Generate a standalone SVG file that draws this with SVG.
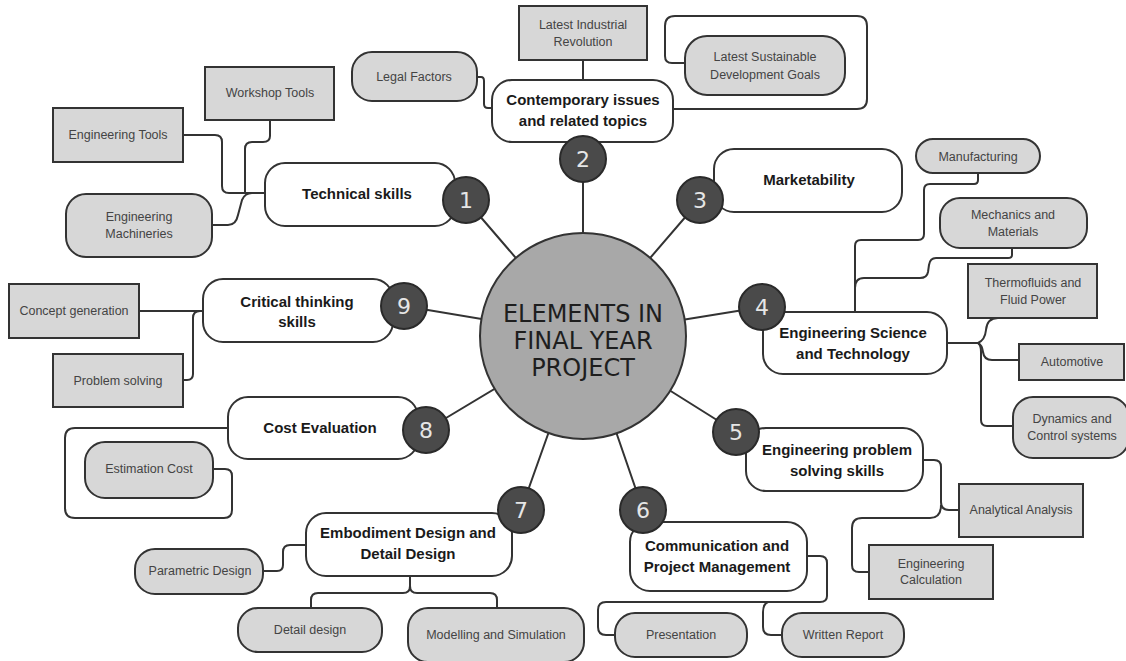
<svg xmlns="http://www.w3.org/2000/svg" width="1126" height="661" viewBox="0 0 1126 661">
<style>
.main{fill:#fff;stroke:#333;stroke-width:2}
.sub{fill:#d7d7d7;stroke:#333;stroke-width:2}
.num{fill:#4a4a4a;stroke:#2a2a2a;stroke-width:2}
.numt{font-family:"DejaVu Sans",sans-serif;font-size:22px;fill:#e6e6e6;text-anchor:middle}
.mt{font-family:"Liberation Sans",Arial,sans-serif;font-size:15px;font-weight:bold;fill:#1a1a1a;text-anchor:middle}
.st{font-family:"Liberation Sans",Arial,sans-serif;font-size:12.5px;fill:#444;text-anchor:middle}
.conn{fill:none;stroke:#333;stroke-width:2}
</style>
<rect width="1126" height="661" fill="#fff"/>
<g id="connectors">
<path class="conn" d="M583,336 L466,200 M583,336 L583,159 M583,336 L700,200 M583,336 L762,307 M583,336 L736,432 M583,336 L643,510 M583,336 L521,510 M583,336 L426,430 M583,336 L404,306"/>
<path class="conn" d="M183,135 H215 Q222,135 222,142 V186 Q222,193 229,193 H265"/>
<path class="conn" d="M270,120 V136 Q270,142 263,142 H252 Q245,142 245,149 V193"/>
<path class="conn" d="M212,225 H228 Q236,225 238,215 L242,200 Q245,193 252,193"/>
<path class="conn" d="M583,60 V80"/>
<path class="conn" d="M477,77 H481 Q484,77 484,81 V104 Q484,108 488,108 H492"/>
<path class="conn" d="M673,109 H857 Q867,109 867,99 V26 Q867,16 857,16 H675 Q665,16 665,26 V56 Q665,63 672,63 H685"/>
<path class="conn" d="M978,173 V180 Q978,184 974,184 H930 Q924,184 924,190 V234 Q924,240 918,240 H861 Q855,240 855,246 V312"/>
<path class="conn" d="M1012,248 V255 Q1012,258 1008,258 H936 Q930,258 929,265 L928,272 Q927,278 920,278 H864 Q855,278 855,288"/>
<path class="conn" d="M947,343 H978 Q985,340 986,330 Q987,318 998,318 H1030"/>
<path class="conn" d="M978,343 Q982,345 983,352 Q984,360 992,360 H1019"/>
<path class="conn" d="M978,343 Q981,345 981,352 V420 Q981,426 987,426 H1013"/>
<path class="conn" d="M923,460 H934 Q941,460 941,467 V502 Q941,510 949,510 H959"/>
<path class="conn" d="M941,505 Q941,518 930,518 H862 Q852,518 852,528 V565 Q852,572 859,572 H869"/>
<path class="conn" d="M807,556 H820 Q827,556 827,563 V596 Q827,602 820,602 H606 Q598,602 598,610 V627 Q598,635 606,635 H615"/>
<path class="conn" d="M768,602 Q763,604 763,612 V627 Q763,635 771,635 H782"/>
<path class="conn" d="M263,571 H277 Q283,571 283,565 V552 Q283,545 290,545 H306"/>
<path class="conn" d="M410,576 V586 Q410,593 403,593 H318 Q311,593 311,600 V608"/>
<path class="conn" d="M410,586 Q410,593 417,593 H490 Q497,593 497,600 V608"/>
<path class="conn" d="M228,428 H75 Q65,428 65,438 V508 Q65,518 75,518 H224 Q232,518 232,510 V476 Q232,469 225,469 H213"/>
<path class="conn" d="M139,311 H203"/>
<path class="conn" d="M183,380 H187 Q193,380 193,374 V318 Q193,311 200,311"/>
</g>
<g id="center">
<circle cx="583" cy="336" r="103" fill="#a8a8a8" stroke="#333" stroke-width="2"/>
<text x="583" y="322" font-family="DejaVu Sans,sans-serif" font-size="24" fill="#1e1e1e" text-anchor="middle">ELEMENTS IN</text>
<text x="583" y="349" font-family="DejaVu Sans,sans-serif" font-size="24" fill="#1e1e1e" text-anchor="middle">FINAL YEAR</text>
<text x="583" y="376" font-family="DejaVu Sans,sans-serif" font-size="24" fill="#1e1e1e" text-anchor="middle">PROJECT</text>
</g>
<g id="node1">
<rect class="main" x="265" y="163" width="190" height="63" rx="20"/>
<text class="mt" x="357" y="199">Technical skills</text>
<circle class="num" cx="466" cy="200" r="23"/><text class="numt" x="466" y="208">1</text>
</g>
<g id="node2">
<rect class="main" x="492" y="80" width="181" height="62" rx="20"/>
<text class="mt" x="583" y="105">Contemporary issues</text>
<text class="mt" x="583" y="126">and related topics</text>
<circle class="num" cx="583" cy="159" r="23"/><text class="numt" x="583" y="167">2</text>
</g>
<g id="node3">
<rect class="main" x="714" y="149" width="188" height="63" rx="20"/>
<text class="mt" x="809" y="185">Marketability</text>
<circle class="num" cx="700" cy="200" r="23"/><text class="numt" x="700" y="208">3</text>
</g>
<g id="node4">
<rect class="main" x="763" y="312" width="184" height="62" rx="20"/>
<text class="mt" x="853" y="338">Engineering Science</text>
<text class="mt" x="853" y="359">and Technology</text>
<circle class="num" cx="762" cy="307" r="23"/><text class="numt" x="762" y="315">4</text>
</g>
<g id="node5">
<rect class="main" x="746" y="428" width="177" height="63" rx="20"/>
<text class="mt" x="837" y="455">Engineering problem</text>
<text class="mt" x="837" y="476">solving skills</text>
<circle class="num" cx="736" cy="432" r="23"/><text class="numt" x="736" y="440">5</text>
</g>
<g id="node6">
<rect class="main" x="630" y="522" width="177" height="69" rx="20"/>
<text class="mt" x="717" y="551">Communication and</text>
<text class="mt" x="717" y="572">Project Management</text>
<circle class="num" cx="643" cy="510" r="23"/><text class="numt" x="643" y="518">6</text>
</g>
<g id="node7">
<rect class="main" x="306" y="513" width="206" height="63" rx="20"/>
<text class="mt" x="408" y="538">Embodiment Design and</text>
<text class="mt" x="408" y="559">Detail Design</text>
<circle class="num" cx="521" cy="510" r="23"/><text class="numt" x="521" y="518">7</text>
</g>
<g id="node8">
<rect class="main" x="228" y="397" width="190" height="62" rx="20"/>
<text class="mt" x="320" y="433">Cost Evaluation</text>
<circle class="num" cx="426" cy="430" r="23"/><text class="numt" x="426" y="438">8</text>
</g>
<g id="node9">
<rect class="main" x="203" y="279" width="190" height="63" rx="20"/>
<text class="mt" x="297" y="307">Critical thinking</text>
<text class="mt" x="297" y="327">skills</text>
<circle class="num" cx="404" cy="306" r="23"/><text class="numt" x="404" y="314">9</text>
</g>
<g id="sub-workshop"><rect class="sub" x="205" y="67" width="129" height="53"/><text class="st" x="270" y="97">Workshop Tools</text></g>
<g id="sub-engtools"><rect class="sub" x="53" y="108" width="130" height="54"/><text class="st" x="118" y="139">Engineering Tools</text></g>
<g id="sub-machineries"><rect class="sub" x="66" y="194" width="146" height="63" rx="20"/><text class="st" x="139" y="221">Engineering</text><text class="st" x="139" y="238">Machineries</text></g>
<g id="sub-industrial"><rect class="sub" x="519" y="6" width="128" height="54"/><text class="st" x="583" y="29">Latest Industrial</text><text class="st" x="583" y="46">Revolution</text></g>
<g id="sub-legal"><rect class="sub" x="352" y="52" width="125" height="49" rx="20"/><text class="st" x="414" y="81">Legal Factors</text></g>
<g id="sub-sdg"><rect class="sub" x="685" y="36" width="160" height="59" rx="22"/><text class="st" x="765" y="61">Latest Sustainable</text><text class="st" x="765" y="79">Development Goals</text></g>
<g id="sub-manufacturing"><rect class="sub" x="916" y="139" width="124" height="34" rx="17"/><text class="st" x="978" y="161">Manufacturing</text></g>
<g id="sub-mechanics"><rect class="sub" x="940" y="198" width="147" height="50" rx="20"/><text class="st" x="1013" y="219">Mechanics and</text><text class="st" x="1013" y="236">Materials</text></g>
<g id="sub-thermo"><rect class="sub" x="968" y="264" width="129" height="54"/><text class="st" x="1033" y="287">Thermofluids and</text><text class="st" x="1033" y="304">Fluid Power</text></g>
<g id="sub-automotive"><rect class="sub" x="1019" y="344" width="105" height="36"/><text class="st" x="1072" y="366">Automotive</text></g>
<g id="sub-dynamics"><rect class="sub" x="1013" y="397" width="116" height="61" rx="20"/><text class="st" x="1072" y="423">Dynamics and</text><text class="st" x="1072" y="440">Control systems</text></g>
<g id="sub-analytical"><rect class="sub" x="959" y="484" width="124" height="53"/><text class="st" x="1021" y="514">Analytical Analysis</text></g>
<g id="sub-calculation"><rect class="sub" x="869" y="545" width="124" height="54"/><text class="st" x="931" y="568">Engineering</text><text class="st" x="931" y="584">Calculation</text></g>
<g id="sub-presentation"><rect class="sub" x="615" y="613" width="132" height="44" rx="20"/><text class="st" x="681" y="639">Presentation</text></g>
<g id="sub-written"><rect class="sub" x="782" y="613" width="122" height="44" rx="20"/><text class="st" x="843" y="639">Written Report</text></g>
<g id="sub-parametric"><rect class="sub" x="135" y="549" width="128" height="45" rx="20"/><text class="st" x="200" y="575">Parametric Design</text></g>
<g id="sub-detail"><rect class="sub" x="238" y="608" width="144" height="44" rx="20"/><text class="st" x="310" y="634">Detail design</text></g>
<g id="sub-modelling"><rect class="sub" x="408" y="608" width="176" height="54" rx="20"/><text class="st" x="496" y="639">Modelling and Simulation</text></g>
<g id="sub-estimation"><rect class="sub" x="85" y="442" width="128" height="56" rx="20"/><text class="st" x="149" y="473">Estimation Cost</text></g>
<g id="sub-concept"><rect class="sub" x="9" y="284" width="130" height="54"/><text class="st" x="74" y="315">Concept generation</text></g>
<g id="sub-problem"><rect class="sub" x="53" y="354" width="130" height="53"/><text class="st" x="118" y="385">Problem solving</text></g>
</svg>
